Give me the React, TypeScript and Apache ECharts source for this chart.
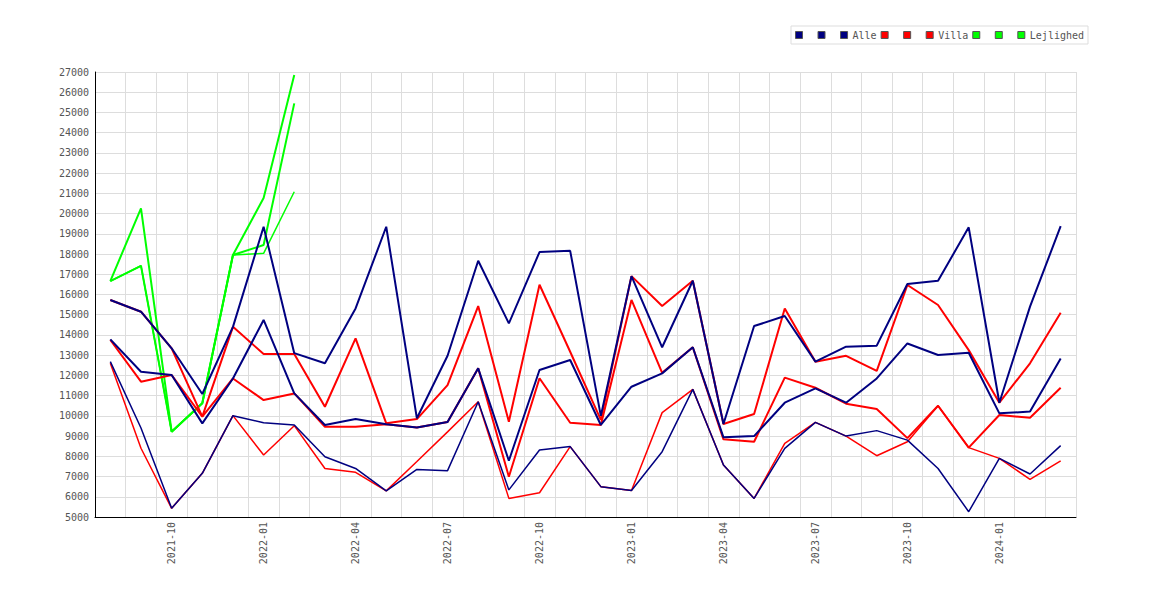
import React, { useEffect, useRef } from "react";
import * as echarts from "echarts";

const months = [
  "2021-08", "2021-09", "2021-10", "2021-11", "2021-12", "2022-01", "2022-02", "2022-03",
  "2022-04", "2022-05", "2022-06", "2022-07", "2022-08", "2022-09", "2022-10", "2022-11",
  "2022-12", "2023-01", "2023-02", "2023-03", "2023-04", "2023-05", "2023-06", "2023-07",
  "2023-08", "2023-09", "2023-10", "2023-11", "2023-12", "2024-01", "2024-02", "2024-03",
];

const alleMax = [
  15730, 15150, 13340, 11080, 14400, 19350, 13100, 12600,
  15310, 19350, 9880, 12970, 17670, 14570, 18100, 18160,
  10000, 16910, 13390, 16680, 9600, 14440, 14935, 12680,
  13420, 13470, 16520, 16680, 19320, 10650, 15400, 19380,
];
const alleMid = [
  13780, 12180, 12020, 9630, 11850, 14740, 11110, 9550,
  9840, 9580, 9430, 9700, 12350, 7780, 12270, 12760,
  9550, 11440, 12100, 13390, 8940, 9000, 10650, 11360,
  10650, 11850, 13580, 13010, 13120, 10125, 10210, 12840,
];
const alleMin = [
  12680, 9400, 5430, 7160, 10010, 9660, 9550, 7980,
  7400, 6290, 7350, 7290, 10700, 6340, 8310, 8480,
  6500, 6310, 8230, 11310, 7570, 5920, 8390, 9680,
  9000, 9270, 8800, 7400, 5260, 7900, 7125, 8530,
];

const villaMax = [
  15730, 15150, 13340, 9960, 14400, 13060, 13060, 10450,
  13830, 9630, 9840, 11520, 15430, 9710, 16480, 13170,
  9800, 16910, 15430, 16680, 9600, 10090, 15310, 12680,
  12970, 12220, 16470, 15480, 13250, 10650, 12600, 15100,
];
const villaMid = [
  13750, 11690, 12020, 9960, 11850, 10780, 11110, 9460,
  9460, 9580, 9430, 9700, 12350, 6990, 11860, 9660,
  9550, 15730, 12130, 13390, 8840, 8720, 11890, 11390,
  10600, 10340, 8900, 10500, 8430, 10040, 9910, 11390,
];
const villaMin = [
  12600, 8400, 5430, 7160, 10010, 8065, 9515, 7400,
  7210, 6290, 7740, 9210, 10700, 5920, 6200, 8480,
  6500, 6310, 10160, 11310, 7570, 5920, 8640, 9680,
  9000, 8030, 8720, 10500, 8430, 7900, 6860, 7780,
];

const lejlMax = [16665, 20260, 9220, 10620, 17950, 20770, 26850];
const lejlMid = [16665, 17420, 9220, 10620, 17950, 18445, 25450];
const lejlMin = [16665, 17420, 9220, 10620, 17950, 18035, 21080];

const yTicks = { min: 5000, max: 27000, step: 1000 };

const NAVY = "#000080";
const RED = "#ff0000";
const GREEN = "#00ff00";

export default function App() {
  const ref = useRef<HTMLDivElement>(null);

  useEffect(() => {
    if (!ref.current) return;
    const chart = echarts.init(ref.current, null, { renderer: "svg" });
    const font = "'DejaVu Sans Mono', monospace";
    const pad = (arr: number[]) => months.map((_, i) => (i < arr.length ? arr[i] : null));
    const mk = (name: string, data: (number | null)[], color: string, width: number, z: number) => ({
      name,
      type: "line",
      data,
      symbol: "none",
      showSymbol: false,
      silent: true,
      z,
      lineStyle: { color, width },
      itemStyle: { color },
      emphasis: { disabled: true },
    });

    chart.setOption({
      animation: false,
      backgroundColor: "#ffffff",
      textStyle: { fontFamily: font },
      legend: {
        right: 82,
        top: 26,
        padding: [4, 4],
        itemGap: 4,
        itemWidth: 7,
        itemHeight: 7,
        icon: "rect",
        borderColor: "#dddddd",
        borderWidth: 1,
        selectedMode: false,
        itemStyle: { borderColor: "#555555", borderWidth: 1 },
        textStyle: { fontFamily: font, fontSize: 10, color: "#555555" },
        formatter: (name: string) => (name.indexOf("_") >= 0 ? " " : name),
        data: [
          "Alle_1", "Alle_2", "Alle",
          "Villa_1", "Villa_2", "Villa",
          "Lejlighed_1", "Lejlighed_2", "Lejlighed",
        ],
      },
      grid: { left: 95, right: 94, top: 72, bottom: 83, containLabel: false },
      xAxis: {
        type: "category",
        data: months,
        boundaryGap: true,
        axisLine: { lineStyle: { color: "#000000", width: 1 } },
        axisTick: { show: false },
        axisLabel: {
          rotate: 90,
          margin: 5,
          color: "#555555",
          fontFamily: font,
          fontSize: 10,
          interval: (index: number) => index % 3 === 2,
        },
        splitLine: { show: true, interval: 0, lineStyle: { color: "#dddddd", width: 1 } },
      },
      yAxis: {
        type: "value",
        min: yTicks.min,
        max: yTicks.max,
        interval: yTicks.step,
        axisLine: { show: true, lineStyle: { color: "#000000", width: 1 } },
        axisTick: { show: false },
        axisLabel: {
          margin: 6,
          color: "#555555",
          fontFamily: font,
          fontSize: 10,
          formatter: (v: number) => String(v),
        },
        splitLine: { show: true, lineStyle: { color: "#dddddd", width: 1 } },
      },
      series: [
        mk("Alle_1", alleMax, NAVY, 2, 6),
        mk("Alle_2", alleMid, NAVY, 2, 6),
        mk("Alle", alleMin, NAVY, 1.5, 6),
        mk("Villa_1", villaMax, RED, 2, 4),
        mk("Villa_2", villaMid, RED, 2, 4),
        mk("Villa", villaMin, RED, 1.5, 4),
        mk("Lejlighed_1", pad(lejlMax), GREEN, 2, 2),
        mk("Lejlighed_2", pad(lejlMid), GREEN, 2, 2),
        mk("Lejlighed", pad(lejlMin), GREEN, 1.5, 2),
      ],
    });

    return () => chart.dispose();
  }, []);

  return (
    <div
      ref={ref}
      style={{ position: "fixed", left: 0, top: 0, width: 1170, height: 600, background: "#fff" }}
    />
  );
}
